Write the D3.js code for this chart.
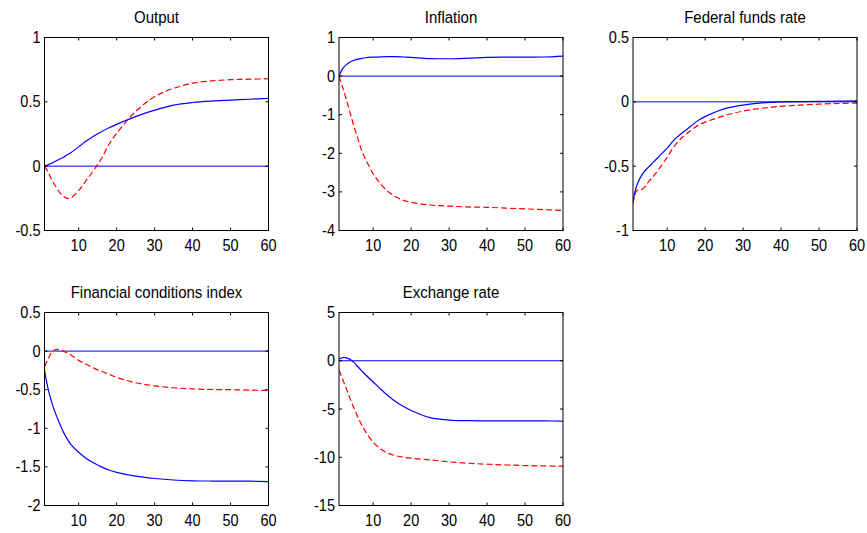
<!DOCTYPE html>
<html>
<head>
<meta charset="utf-8">
<script src="https://cdn.jsdelivr.net/npm/d3@7"></script>
<style>
  body { margin: 0; background: #fff; }
  svg text { font-family: "Liberation Sans", Arial, sans-serif; fill: #000; }
</style>
</head>
<body>
<svg id="chart" width="867" height="533"></svg>
<script>
const horizons = [1, 2, 3, 4, 5, 6, 7, 8, 10, 12, 14, 16, 18, 20, 25, 30, 35, 40, 45, 50, 55, 60];

const titles = ['Output', 'Inflation', 'Federal funds rate', 'Financial conditions index', 'Exchange rate'];

const outputSolid  = [0, 0.012, 0.025, 0.04, 0.055, 0.07, 0.088, 0.107, 0.15, 0.195, 0.235, 0.268, 0.298, 0.325, 0.385, 0.435, 0.475, 0.495, 0.506, 0.513, 0.52, 0.527];
const outputDashed = [0, -0.05, -0.11, -0.16, -0.205, -0.235, -0.251, -0.245, -0.19, -0.11, -0.03, 0.06, 0.17, 0.255, 0.425, 0.54, 0.605, 0.645, 0.663, 0.672, 0.676, 0.68];

const inflationSolid  = [0, 0.2, 0.3, 0.37, 0.41, 0.44, 0.46, 0.475, 0.49, 0.5, 0.505, 0.505, 0.495, 0.485, 0.455, 0.45, 0.465, 0.485, 0.49, 0.49, 0.495, 0.52];
const inflationDashed = [0, -0.3, -0.63, -0.98, -1.32, -1.63, -1.93, -2.15, -2.53, -2.8, -3.0, -3.13, -3.22, -3.27, -3.34, -3.37, -3.39, -3.40, -3.42, -3.44, -3.46, -3.48];

const fedfundsSolid  = [-0.77, -0.65, -0.585, -0.54, -0.51, -0.48, -0.45, -0.42, -0.36, -0.29, -0.24, -0.195, -0.148, -0.115, -0.055, -0.025, -0.008, 0, 0.002, 0.003, 0.005, 0.007];
const fedfundsDashed = [-0.79, -0.69, -0.685, -0.665, -0.625, -0.59, -0.555, -0.515, -0.43, -0.34, -0.275, -0.228, -0.185, -0.158, -0.108, -0.072, -0.05, -0.035, -0.025, -0.018, -0.013, -0.01];

const fciSolid  = [-0.25, -0.5, -0.68, -0.82, -0.94, -1.05, -1.14, -1.21, -1.31, -1.39, -1.45, -1.5, -1.54, -1.57, -1.62, -1.65, -1.67, -1.68, -1.683, -1.683, -1.685, -1.69];
const fciDashed = [-0.2, -0.1, -0.01, 0.02, 0.02, 0.0, -0.025, -0.05, -0.12, -0.17, -0.22, -0.26, -0.3, -0.34, -0.41, -0.45, -0.475, -0.49, -0.497, -0.5, -0.505, -0.51];

const fxSolid  = [0.15, 0.33, 0.3, 0.12, -0.2, -0.62, -1.05, -1.45, -2.2, -2.95, -3.65, -4.25, -4.75, -5.15, -5.9, -6.15, -6.21, -6.23, -6.23, -6.24, -6.24, -6.25];
const fxDashed = [-0.97, -1.95, -2.95, -4.0, -4.95, -5.85, -6.65, -7.35, -8.45, -9.15, -9.6, -9.85, -10.0, -10.1, -10.28, -10.48, -10.62, -10.72, -10.8, -10.86, -10.9, -10.93];

const xTicks = [10, 20, 30, 40, 50, 60];
const yTicks = [
    [-0.5, 0, 0.5, 1],
    [-4, -3, -2, -1, 0, 1],
    [-1, -0.5, 0, 0.5],
    [-2, -1.5, -1, -0.5, 0, 0.5],
    [-15, -10, -5, 0, 5]
];
const solidSeries = [outputSolid, inflationSolid, fedfundsSolid, fciSolid, fxSolid];
const dashedSeries = [outputDashed, inflationDashed, fedfundsDashed, fciDashed, fxDashed];

// layout (MATLAB 2x3 subplot grid)
const plotW = 224, plotH = 193;
const colLeft = [44.5, 339, 633];
const rowTop = [37.5, 312.5];
const tickLen = 3;
const stretch = 1.1;   // the picture's text is a little taller than wide

const svg = d3.select('#chart');

function label(g, x, y, txt, size, anchor) {
    g.append('text')
        .attr('transform', `translate(${x},${y}) scale(1,${stretch})`)
        .attr('text-anchor', anchor)
        .attr('font-size', size)
        .text(txt);
}

titles.forEach((title, i) => {
    const col = i % 3, row = Math.floor(i / 3);
    const left = colLeft[col], top = rowTop[row];
    const ticks = yTicks[i];

    const x = d3.scaleLinear().domain([1, 60]).range([0, plotW]);
    const y = d3.scaleLinear().domain(d3.extent(ticks)).range([plotH, 0]);

    const g = svg.append('g').attr('transform', `translate(${left},${top})`);

    g.append('defs').append('clipPath').attr('id', 'clip' + i)
        .append('rect').attr('width', plotW).attr('height', plotH);

    // zero line
    g.append('line')
        .attr('x1', 0).attr('x2', plotW)
        .attr('y1', y(0)).attr('y2', y(0))
        .attr('stroke', '#0000ff').attr('stroke-width', 1);

    const line = d3.line()
        .x((d, k) => x(horizons[k]))
        .y(d => y(d))
        .curve(d3.curveCatmullRom.alpha(0.5));

    const plot = g.append('g').attr('clip-path', `url(#clip${i})`);
    plot.append('path')
        .attr('d', line(dashedSeries[i]))
        .attr('fill', 'none')
        .attr('stroke', '#ff0000')
        .attr('stroke-width', 1.2)
        .attr('stroke-dasharray', '6,3');
    plot.append('path')
        .attr('d', line(solidSeries[i]))
        .attr('fill', 'none')
        .attr('stroke', '#0000ff')
        .attr('stroke-width', 1.2);

    // inward ticks on all four sides
    const tk = g.append('g').attr('stroke', '#000').attr('stroke-width', 1);
    xTicks.forEach(t => {
        tk.append('line').attr('x1', x(t)).attr('x2', x(t)).attr('y1', plotH).attr('y2', plotH - tickLen);
        tk.append('line').attr('x1', x(t)).attr('x2', x(t)).attr('y1', 0).attr('y2', tickLen);
    });
    ticks.forEach(t => {
        tk.append('line').attr('x1', 0).attr('x2', tickLen).attr('y1', y(t)).attr('y2', y(t));
        tk.append('line').attr('x1', plotW).attr('x2', plotW - tickLen).attr('y1', y(t)).attr('y2', y(t));
    });

    // box
    g.append('rect')
        .attr('width', plotW).attr('height', plotH)
        .attr('fill', 'none').attr('stroke', '#000').attr('stroke-width', 1);

    // tick labels
    xTicks.forEach(t => label(g, x(t), plotH + 20.5, t, 14.5, 'middle'));
    ticks.forEach(t => label(g, -4, y(t) + 5.5, t, 14.5, 'end'));

    label(g, plotW / 2, -15, title, 15, 'middle');
});
</script>
</body>
</html>
